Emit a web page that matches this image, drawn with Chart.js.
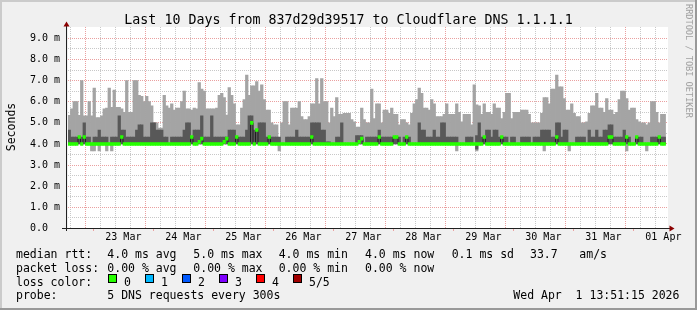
<!DOCTYPE html>
<html><head><meta charset="utf-8">
<script src="https://cdn.jsdelivr.net/npm/chart.js@4.4.1/dist/chart.umd.min.js"></script>
<style>html,body{margin:0;padding:0;background:#f0f0f0;}canvas{display:block}</style>
</head><body>
<canvas id="c" width="697" height="310" style="width:697px;height:310px"></canvas>
<script>
// ---- data: hourly bins over the last 10 days (ms) ----
const pingMax = [
5.36,5.66,6.0,6.0,5.36,7.0,5.33,5.33,6.0,5.33,6.65,5.25,5.25,5.33,5.66,5.7,6.65,5.73,6.55,5.73,
5.73,5.66,5.5,7.0,5.5,5.5,7.0,7.0,6.3,6.25,6.0,6.25,6.0,5.8,5.0,5.0,4.75,4.75,6.3,5.8,
5.7,5.9,5.6,5.7,5.7,6.0,6.5,5.66,5.66,5.6,5.7,5.66,6.9,6.6,6.5,5.66,5.66,5.66,5.66,5.7,
6.3,6.4,6.2,5.37,6.67,6.3,5.9,4.9,4.9,5.7,6.1,7.26,6.3,6.75,6.75,6.95,6.5,6.8,6.1,5.6,
5.6,5.0,4.9,4.9,4.1,5.0,6.0,6.0,4.9,5.7,5.7,5.7,6.0,5.3,5.15,5.15,5.3,5.9,5.9,7.1,
5.9,7.1,6.0,6.0,5.0,5.7,5.3,6.2,5.4,5.4,5.45,5.45,5.45,5.15,5.05,4.8,4.8,5.7,5.15,5.0,
5.0,6.6,5.2,5.9,5.9,5.0,5.6,5.6,5.45,5.7,5.4,5.4,4.9,5.15,5.15,5.0,4.9,5.45,5.9,6.1,
6.65,6.4,5.7,5.7,5.6,6.1,5.9,5.3,5.3,5.3,5.4,5.9,5.4,5.4,5.4,5.9,5.5,5.05,5.4,5.4,
5.4,4.9,6.8,5.85,5.8,5.4,5.9,5.5,5.5,5.4,5.9,5.7,5.7,5.2,5.5,6.4,6.4,5.2,5.5,5.5,
5.5,5.6,5.6,5.6,5.4,5.0,5.0,5.0,5.0,5.45,6.2,6.2,5.9,6.6,6.6,7.26,6.7,6.7,6.15,5.6,
5.6,5.9,5.45,5.3,5.3,5.0,5.0,5.05,5.45,5.8,5.8,6.4,5.7,5.7,5.5,6.15,5.6,5.6,5.4,5.5,
6.1,6.5,6.5,6.15,5.6,5.7,5.7,5.15,5.05,5.0,5.0,4.9,5.0,6.0,6.0,5.5,5.0,5.4,5.4
];
const pingHigh = [
4.66,4.33,4.33,4.33,4.33,4.33,5.0,4.33,4.33,4.0,4.33,4.33,4.66,4.33,4.33,4.33,4.0,4.33,4.33,4.33,
5.33,4.66,4.66,4.33,4.33,4.33,4.33,4.66,4.9,4.9,4.33,4.33,4.33,5.0,5.0,4.66,4.66,4.66,4.33,4.33,
4.0,4.33,4.33,4.33,4.33,4.33,4.66,5.0,5.0,4.33,4.66,4.66,4.66,5.33,4.33,4.33,4.33,5.33,4.33,4.33,
4.33,4.33,4.33,4.33,4.66,4.66,4.66,4.33,4.33,4.33,4.33,4.66,5.33,5.33,4.66,4.66,5.0,5.0,5.0,4.33,
4.33,4.33,4.33,4.33,4.33,4.0,4.0,4.33,4.33,4.33,4.33,4.66,4.33,4.33,4.33,4.33,4.33,5.0,5.0,5.0,
5.0,4.66,4.66,4.1,4.1,4.0,4.0,4.33,4.33,5.0,4.0,4.0,4.0,4.0,4.0,4.4,4.4,4.4,4.0,4.33,
4.33,4.33,4.33,4.33,4.66,4.33,4.33,4.33,4.33,4.33,4.33,4.33,4.33,4.0,4.33,4.33,4.33,4.0,4.0,4.0,
5.0,4.66,4.66,4.33,4.33,4.33,4.66,4.33,4.33,5.0,5.0,4.33,4.33,4.33,4.33,4.33,4.0,4.0,4.0,4.33,
4.33,4.33,4.0,4.4,5.0,4.33,4.33,4.66,4.66,4.33,4.66,4.66,4.33,4.33,4.33,4.33,4.0,4.33,4.33,4.0,
4.0,4.33,4.33,4.33,4.33,4.0,4.33,4.33,4.33,4.66,4.66,4.66,4.66,4.33,4.33,5.0,5.0,4.33,4.66,4.66,
4.0,4.0,4.0,4.33,4.33,4.33,4.33,4.0,4.66,4.33,4.33,4.66,4.33,4.33,4.66,4.66,4.9,4.9,4.33,4.33,
4.33,4.33,4.66,4.33,4.33,4.0,4.0,4.33,4.33,4.33,4.0,4.0,4.0,4.33,4.33,4.33,4.33,4.33,4.33
];
const pingMin = [
4,4,4,4,4,4,4,4,4,3.67,3.67,4,3.67,4,4,3.67,4,3.67,4,4,
4,4,4,4,4,4,4,4,4,4,4,4,4,4,4,4,4,4,4,4,
4,4,4,4,4,4,4,4,4,4,4,4,4,4,4,4,4,4,4,4,
4,4,4,4,4,4,4,4,4,4,4,4,4,4,4,4,4,4,4,4,
4,4,4,4,3.67,4,4,4,4,4,4,4,4,4,4,4,4,4,4,4,
4,4,4,4,4,4,4,4,4,4,4,4,4,4,4,4,4,4,4,4,
4,4,4,4,4,4,4,4,4,4,4,4,4,4,4,4,4,4,4,4,
4,4,4,4,4,4,4,4,4,4,4,4,4,4,4,3.67,4,4,4,4,
4,4,4,3.67,4,4,4,4,4,4,4,4,4,4,4,4,4,4,4,4,
4,4,4,4,4,4,4,4,4,4,3.67,4,4,4,4,4,4,4,4,4,
3.67,4,4,4,4,4,4,4,4,4,4,4,4,4,4,4,4,4,4,4,
4,4,4,3.67,4,4,4,4,4,4,4,3.67,4,4,4,4,4,4,4
];
const pingLow = [
4,4,4,4,4,4,4,4,4,4,4,4,4,4,4,4,4,4,4,4,
4,4,4,4,4,4,4,4,4,4,4,4,4,4,4,4,4,4,4,4,
4,4,4,4,4,4,4,4,4,4,4,4,4,4,4,4,4,4,4,4,
4,4,4,4,4,4,4,4,4,4,4,4,4,4,4,4,4,4,4,4,
4,4,4,4,4,4,4,4,4,4,4,4,4,4,4,4,4,4,4,4,
4,4,4,4,4,4,4,4,4,4,4,4,4,4,4,4,4,4,4,4,
4,4,4,4,4,4,4,4,4,4,4,4,4,4,4,4,4,4,4,4,
4,4,4,4,4,4,4,4,4,4,4,4,4,4,4,4,4,4,4,4,
4,4,4,3.75,4,4,4,4,4,4,4,4,4,4,4,4,4,4,4,4,
4,4,4,4,4,4,4,4,4,4,4,4,4,4,4,4,4,4,4,4,
4,4,4,4,4,4,4,4,4,4,4,4,4,4,4,4,4,4,4,4,
4,4,4,4,4,4,4,4,4,4,4,4,4,4,4,4,4,4,4
];
const pingMedian = [
4,4,4,4,4.33,4,4.33,4,4,4,4,4,4,4,4,4,4,4,4,4,
4,4.33,4,4,4,4,4,4,4,4,4,4,4,4,4,4,4,4,4,4,
4,4,4,4,4,4,4,4,4,4.33,4,4,4.1,4.25,4,4,4,4,4,4,
4,4,4.1,4.25,4,4,4,4.33,4,4,4,4,4,5.0,4,4.66,4,4,4,4,
4.33,4,4,4,4,4,4,4,4,4,4,4,4,4,4,4,4,4.33,4,4,
4,4,4,4,4,4,4,4,4,4,4,4,4,4,4,4,4.1,4.25,4,4,
4,4,4,4,4.33,4,4,4,4,4,4.33,4.33,4,4,4,4.33,4,4,4,4,
4,4,4,4,4,4,4,4,4,4,4,4,4,4,4,4,4,4,4,4,
4,4,4,4,4,4,4.33,4,4,4,4,4,4,4.33,4,4,4,4,4,4,
4,4,4,4,4,4,4,4,4,4,4,4,4,4,4,4.33,4,4,4,4,
4,4,4,4,4,4,4,4,4,4,4,4,4,4,4,4,4.33,4.33,4,4,
4,4,4,4.33,4,4,4,4.33,4,4,4,4,4,4,4,4,4.33,4,4
];
const dayLabels = ['23 Mar','24 Mar','25 Mar','26 Mar','27 Mar','28 Mar','29 Mar','30 Mar','31 Mar','01 Apr'];
const yTickValues = [0,0.5,1,1.5,2,2.5,3,3.5,4,4.5,5,5.5,6,6.5,7,7.5,8,8.5,9];
const lossLabels = ['0','1','2','3','4','5/5'];
const lossColors = ['#26ff00','#00b8ff','#0059ff','#7e00ff','#ff0000','#a10000'];

// hours from the graph start (22 Mar 13:51:15) to 23 Mar 00:00
const TO_MIDNIGHT = 10 + 8/60 + 45/3600;
const gridHours = [];
for (let h = TO_MIDNIGHT - 6; h < 240; h += 6) gridHours.push(h);
function isMidnight(v){ const r = ((v - TO_MIDNIGHT) % 24 + 24) % 24; return r < 0.01 || r > 23.99; }
function dayLabelFor(v){
  for (let d = 0; d < dayLabels.length; d++) if (Math.abs(v - (TO_MIDNIGHT + 12 + 24*d)) < 0.01) return dayLabels[d];
  return '';
}

const HALF_LINE = 0.071; // half of 3px median band in ms
const bins = pingMax.map((_, i) => i);
const lightData = bins.map(i => ({x: i + 0.5, y: [pingMin[i], pingMax[i]]}));
const darkData = bins.map(i => ({x: i + 0.5, y: [pingLow[i], pingHigh[i]]}));
const medLine = bins.map(i => ({x: i + 0.5, y: pingMedian[i]}));
const medBand = bins.map(i => ({x: i + 0.5, y: [pingMedian[i] - HALF_LINE, pingMedian[i] + HALF_LINE]}));

const MONO = '"DejaVu Sans Mono", monospace';
const GRID_MINOR = '#c8c8c8';
const GRID_MAJOR = '#eaa0a0';

const deco = {
  id: 'deco',
  beforeDraw(chart){
    const ctx = chart.ctx, a = chart.chartArea;
    ctx.save();
    ctx.fillStyle = '#f0f0f0'; ctx.fillRect(0,0,697,310);
    ctx.fillStyle = '#cbcbcb'; ctx.fillRect(0,0,697,2); ctx.fillRect(0,0,2,310);
    ctx.fillStyle = '#999999'; ctx.fillRect(695,0,2,310); ctx.fillRect(0,308,697,2);
    ctx.fillStyle = '#ffffff'; ctx.fillRect(a.left, a.top, a.right - a.left, a.bottom - a.top);
    ctx.restore();
  },
  afterDraw(chart){
    const ctx = chart.ctx, a = chart.chartArea, xs = chart.scales.x;
    ctx.save();
    // small marks below the axis at midnight lines
    ctx.strokeStyle = GRID_MAJOR; ctx.lineWidth = 1;
    gridHours.filter(isMidnight).forEach(h => {
      const px = Math.round(xs.getPixelForValue(h) - 0.5) + 0.5;
      ctx.beginPath(); ctx.moveTo(px, a.bottom); ctx.lineTo(px, a.bottom + 2.5); ctx.stroke();
    });
    // axes
    ctx.strokeStyle = '#212121'; ctx.lineWidth = 1;
    ctx.beginPath(); ctx.moveTo(62, 228.5); ctx.lineTo(670, 228.5); ctx.stroke();
    ctx.beginPath(); ctx.moveTo(66.5, 231); ctx.lineTo(66.5, 25); ctx.stroke();
    ctx.fillStyle = '#8b0000';
    ctx.beginPath(); ctx.moveTo(66.5, 21.5); ctx.lineTo(63.5, 26.5); ctx.lineTo(69.5, 26.5); ctx.closePath(); ctx.fill();
    ctx.beginPath(); ctx.moveTo(674.5, 228.5); ctx.lineTo(669.5, 225.5); ctx.lineTo(669.5, 231.5); ctx.closePath(); ctx.fill();
    // title
    ctx.fillStyle = '#000';
    ctx.font = '13.3px ' + MONO; ctx.textAlign = 'center'; ctx.textBaseline = 'alphabetic';
    ctx.fillText('Last 10 Days from 837d29d39517 to Cloudflare DNS 1.1.1.1', 348.5, 23.5);
    // y axis title
    ctx.save(); ctx.translate(15, 127); ctx.rotate(-Math.PI/2);
    ctx.font = '11.5px ' + MONO; ctx.textAlign = 'center'; ctx.fillText('Seconds', 0, 0);
    ctx.restore();
    // watermark
    ctx.save(); ctx.translate(685.5, 4); ctx.rotate(Math.PI/2);
    ctx.font = '8.6px ' + MONO; ctx.textAlign = 'left'; ctx.fillStyle = '#a0a0a0';
    ctx.fillText('RRDTOOL / TOBI OETIKER', 0, 0);
    ctx.restore();
    // legend
    ctx.font = '11.5px ' + MONO; ctx.textAlign = 'left'; ctx.fillStyle = '#000';
    const rows = [
      [258.3, [[16,'median rtt:'],[107.3,'4.0 ms avg'],[193.3,'5.0 ms max'],[278.7,'4.0 ms min'],[365,'4.0 ms now'],[451.7,'0.1 ms sd'],[530,'33.7'],[579.3,'am/s']]],
      [272, [[16,'packet loss:'],[107.3,'0.00 % avg'],[193.3,'0.00 % max'],[278.7,'0.00 % min'],[365,'0.00 % now']]],
      [285.7, [[16,'loss color:']]],
      [299.4, [[16,'probe:'],[107.3,'5 DNS requests every 300s'],[513.3,'Wed Apr  1 13:51:15 2026']]]
    ];
    rows.forEach(([y, items]) => items.forEach(([x, t]) => ctx.fillText(t, x, y)));
    lossLabels.forEach((lab, k) => {
      const bx = 108.5 + 37*k;
      ctx.fillStyle = lossColors[k]; ctx.fillRect(bx, 274.5, 8, 8);
      ctx.strokeStyle = '#000'; ctx.lineWidth = 1; ctx.strokeRect(bx, 274.5, 8, 8);
      ctx.fillStyle = '#000'; ctx.fillText(lab, bx + 15.5, 285.7);
    });
    ctx.restore();
  }
};

new Chart(document.getElementById('c'), {
  type: 'bar',
  data: {
    datasets: [
      {type:'bar', data: lightData, backgroundColor:'#a4a4a4', barThickness:2.6, grouped:false, order:5},
      {type:'bar', data: darkData, backgroundColor:'#585858', barThickness:2.6, grouped:false, order:4},
      {type:'line', data: medLine, stepped:'middle', borderColor:'#202020', borderWidth:1, pointRadius:0, fill:false, order:3},
      {type:'bar', data: medBand, backgroundColor:'#26ff00', barThickness:2.6, grouped:false, order:2}
    ]
  },
  plugins: [deco],
  options: {
    responsive: false, devicePixelRatio: 1, animation: false, events: [],
    layout: {padding: {left: 0, top: 27, right: 29, bottom: 61.5}},
    plugins: {legend: {display: false}, tooltip: {enabled: false}, title: {display: false}},
    scales: {
      x: {
        type: 'linear', min: 0, max: 240, offset: false, z: 1,
        afterBuildTicks: ax => { ax.ticks = gridHours.map(v => ({value: v})); },
        afterFit: s => { s.height = 20; },
        ticks: {autoSkip: false, maxRotation: 0, minRotation: 0, padding: 3, color: '#000',
          font: {family: MONO, size: 10}, callback: v => dayLabelFor(v)},
        grid: {drawTicks: false, lineWidth: 1, color: c => (c.tick && isMidnight(c.tick.value)) ? GRID_MAJOR : GRID_MINOR},
        border: {display: false, dash: [1,1]}
      },
      y: {
        type: 'linear', min: 0, max: 9.535, z: 1,
        afterBuildTicks: ax => { ax.ticks = yTickValues.map(v => ({value: v})); },
        afterFit: s => { s.width = 68; },
        ticks: {autoSkip: false, padding: 8, color: '#000', font: {family: MONO, size: 10},
          callback: v => Number.isInteger(v) ? (v === 0 ? '0.0  ' : v.toFixed(1) + ' m') : ''},
        grid: {drawTicks: false, lineWidth: 1, color: c => (c.tick && Number.isInteger(c.tick.value)) ? GRID_MAJOR : GRID_MINOR},
        border: {display: false, dash: [1,1]}
      }
    }
  }
});
</script>
</body></html>
